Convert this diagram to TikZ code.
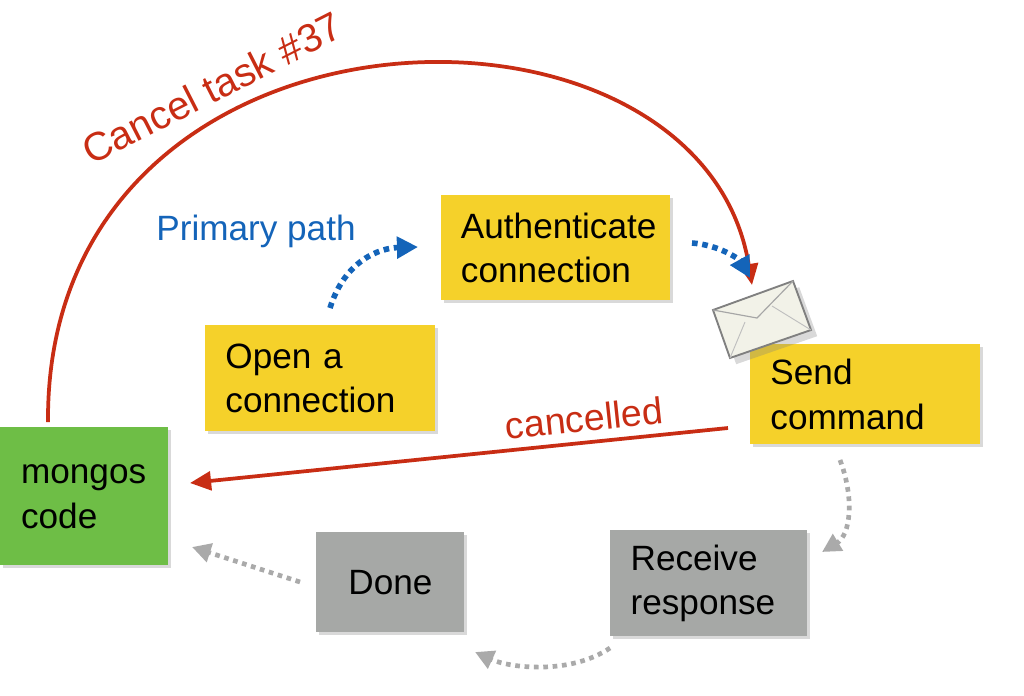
\documentclass[tikz,border=0pt]{standalone}
\usepackage{fontspec}
\setmainfont{Liberation Sans}
\usetikzlibrary{positioning, arrows.meta, shadows}
\definecolor{boxyellow}{RGB}{245,209,42}
\definecolor{boxgreen}{RGB}{110,190,70}
\definecolor{boxgray}{RGB}{166,168,166}
\definecolor{cancelred}{RGB}{200,45,20}
\definecolor{pathblue}{RGB}{20,100,185}
\definecolor{flowgray}{RGB}{170,170,170}
\definecolor{paper}{RGB}{242,242,232}

\tikzset{
  step/.style={rectangle, anchor=north west, align=left, text width=#1, inner xsep=8pt,
    font=\fontsize{15}{19}\selectfont, drop shadow={opacity=0.3, shadow xshift=1pt, shadow yshift=-1pt}},
  redarrow/.style={draw=cancelred, line width=1.6pt, -{Triangle[length=9pt,width=8pt]}},
  bluearrow/.style={draw=pathblue, line width=2.4pt, dotted, -{Triangle[length=9pt,width=9pt]}},
  grayarrow/.style={draw=flowgray, line width=2pt, dotted, -{Triangle[length=8pt,width=8pt]}}
}

\begin{document}
\begin{tikzpicture}[x=0.015cm, y=-0.015cm]
  \useasboundingbox (0,0) rectangle (1024,695);
  % boxes
  \node[step={1.9cm}, fill=boxgreen, minimum width={168*0.015cm}, minimum height={138*0.015cm}] (mongos) at (0,427) {mongos\\code};
  \node[step={2.85cm}, fill=boxyellow, minimum width={230*0.015cm}, minimum height={106*0.015cm}] (open) at (205,325) {Open a\\connection};
  \node[step={2.85cm}, fill=boxyellow, minimum width={229*0.015cm}, minimum height={105*0.015cm}] (auth) at (441,195) {Authenticate\\connection};
  \node[step={2.85cm}, fill=boxyellow, minimum width={230*0.015cm}, minimum height={100*0.015cm}] (send) at (750,344) {Send\\command};
  \node[step={2.35cm}, fill=boxgray, minimum width={197*0.015cm}, minimum height={106*0.015cm}] (receive) at (610,530) {Receive\\response};
  \node[step={1.65cm}, fill=boxgray, minimum width={148*0.015cm}, minimum height={100*0.015cm}, align=center] (done) at (316,532) {Done};

  % envelope
  \coordinate (e1) at (713,310);
  \coordinate (e2) at (793,281);
  \coordinate (e3) at (811,330);
  \coordinate (e4) at (730,358);
  \coordinate (ef) at (757,318);
  \fill[paper, draw=gray, line width=0.8pt, drop shadow={opacity=0.3}] (e1) -- (e2) -- (e3) -- (e4) -- cycle;
  \draw[gray!70, line width=0.5pt] (e1) -- (ef) -- (e2);
  \draw[gray!50, line width=0.4pt] (e4) -- (745,322) (e3) -- (772,306);

  % cancel path
  \coordinate (top) at (48,422);
  \coordinate (env) at (752,285);
  \draw[redarrow] (top) .. controls (45,-20) and (700,-34) .. (env);
  \node[text=cancelred, font=\fontsize{17}{20}\selectfont, rotate=27] at (212,88) {Cancel task \#37};
  \draw[redarrow] (728,428) -- (190,483);
  \node[text=cancelred, font=\fontsize{16}{19}\selectfont, rotate=6] at (584,418) {cancelled};

  % primary path
  \node[text=pathblue, font=\fontsize{15}{19}\selectfont] at (256,231) {Primary path};
  \draw[bluearrow] (330,308) .. controls (345,260) and (380,248) .. (418,247);
  \draw[bluearrow] (692,243) .. controls (720,245) and (740,260) .. (750,278);

  % remaining steps
  \draw[grayarrow] (840,460) .. controls (855,500) and (850,535) .. (822,552);
  \draw[grayarrow] (610,648) .. controls (570,675) and (510,668) .. (475,652);
  \draw[grayarrow] (300,582) -- (192,547);
\end{tikzpicture}
\end{document}
